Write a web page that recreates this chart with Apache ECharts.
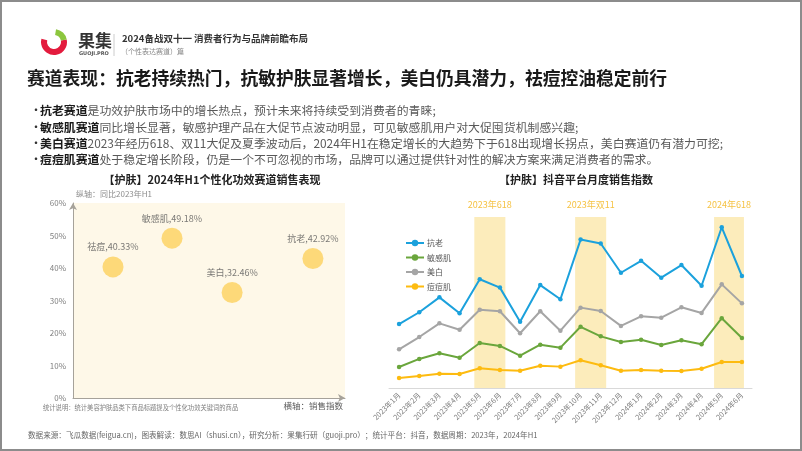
<!DOCTYPE html>
<html>
<head>
<meta charset="utf-8">
<script src="https://cdn.jsdelivr.net/npm/echarts@6/dist/echarts.min.js"></script>
<style>
html, body { margin: 0; padding: 0; background: #fff; }
#main { width: 802px; height: 451px; }
</style>
</head>
<body>
<div id="main"></div>
<script>
// 左图：个性化功效赛道（横轴销售指数为估计值，纵轴同比）
var trackNames = ["祛痘", "敏感肌", "美白", "抗老"];
var trackIndex = [14.7, 36.4, 58.5, 88.2];
var trackYoY = [40.33, 49.18, 32.46, 42.92];

// 右图：抖音平台月度销售指数
var months = ["2023年1月", "2023年2月", "2023年3月", "2023年4月", "2023年5月", "2023年6月",
  "2023年7月", "2023年8月", "2023年9月", "2023年10月", "2023年11月", "2023年12月",
  "2024年1月", "2024年2月", "2024年3月", "2024年4月", "2024年5月", "2024年6月"];
var kangLao = [37.4, 44.3, 53.0, 43.7, 63.6, 58.7, 38.8, 60.2, 51.9, 86.8, 84.5, 67.4, 74.4, 64.5, 71.9, 59.8, 94.0, 65.5];
var minGan = [12.3, 17.0, 20.3, 17.7, 26.3, 24.6, 18.9, 25.3, 23.6, 35.8, 30.2, 26.9, 28.2, 25.1, 27.9, 25.6, 40.8, 29.2];
var meiBai = [22.6, 29.8, 37.8, 34.1, 45.8, 44.9, 32.0, 44.9, 33.5, 47.0, 45.0, 36.3, 41.9, 41.1, 47.2, 43.9, 60.6, 49.5];
var douDou = [5.8, 7.0, 8.4, 8.2, 11.5, 10.5, 10.1, 13.0, 12.5, 16.2, 13.3, 10.1, 10.5, 10.1, 9.9, 11.3, 15.2, 15.2];

// 大促区间（按月份序号）
var promoNames = ["2023年618", "2023年双11", "2024年618"];
var promoStart = [3.73, 8.73, 15.62];
var promoEnd = [5.27, 10.27, 17.1];

var FONT = "Noto Sans CJK SC";
var myChart = echarts.init(document.getElementById("main"));

var scatterData = trackNames.map(function (n, i) {
  return { name: n, value: [trackIndex[i], trackYoY[i]] };
});
var promoAreas = promoNames.map(function (n, i) {
  return [{ name: n, xAxis: promoStart[i] }, { xAxis: promoEnd[i] }];
});

var bullets = [
  ["抗老赛道", "是功效护肤市场中的增长热点，预计未来将持续受到消费者的青睐;"],
  ["敏感肌赛道", "同比增长显著，敏感护理产品在大促节点波动明显，可见敏感肌用户对大促囤货机制感兴趣;"],
  ["美白赛道", "2023年经历618、双11大促及夏季波动后，2024年H1在稳定增长的大趋势下于618出现增长拐点，美白赛道仍有潜力可挖;"],
  ["痘痘肌赛道", "处于稳定增长阶段，仍是一个不可忽视的市场，品牌可以通过提供针对性的解决方案来满足消费者的需求。"]
];
var bulletY = [110, 127, 143, 159];

var graphics = [
  { type: "rect", shape: { x: 1, y: 1, width: 800, height: 449 }, style: { fill: "none", stroke: "#8c8c8c", lineWidth: 2 } },
  // logo
  { type: "sector", shape: { cx: 54, cy: 42, r: 13, r0: 7, startAngle: -0.2, endAngle: Math.PI * 1.08 }, style: { fill: "#e31b3d" } },
  { type: "sector", shape: { cx: 54, cy: 42, r: 13, r0: 7, startAngle: -Math.PI * 0.45, endAngle: -0.2 }, style: { fill: "#8cc63e" } },
  { type: "text", left: 78, top: 32, style: { text: "果集", fill: "#333", font: "bold 17px '" + FONT + "'" } },
  { type: "text", left: 79, top: 51, style: { text: "GUOJI.PRO", fill: "#555", font: "bold 5px 'DejaVu Sans'" } },
  { type: "line", shape: { x1: 114, y1: 34, x2: 114, y2: 56 }, style: { stroke: "#ccc", lineWidth: 1 } },
  { type: "text", left: 122, top: 34, style: { text: "2024备战双十一 消费者行为与品牌前瞻布局", fill: "#333", font: "bold 9.5px '" + FONT + "'" } },
  { type: "text", left: 121, top: 48, style: { text: "（个性表达赛道）篇", fill: "#888", font: "7px '" + FONT + "'" } },
  // 主标题
  { type: "text", left: 27, top: 69, style: { text: "赛道表现：抗老持续热门，抗敏护肤显著增长，美白仍具潜力，祛痘控油稳定前行", fill: "#1a1a1a", font: "bold 17.8px '" + FONT + "'" } },
  // 图标题
  { type: "text", x: 212, y: 180, style: { text: "【护肤】2024年H1个性化功效赛道销售表现", fill: "#222", font: "bold 11px '" + FONT + "'", align: "center", verticalAlign: "middle" } },
  { type: "text", x: 576, y: 180, style: { text: "【护肤】抖音平台月度销售指数", fill: "#222", font: "bold 11px '" + FONT + "'", align: "center", verticalAlign: "middle" } },
  { type: "text", left: 76, top: 190, style: { text: "纵轴：同比2023年H1", fill: "#8c8c8c", font: "8px '" + FONT + "'" } },
  { type: "text", left: 43, top: 404, style: { text: "统计说明：统计美容护肤品类下商品标题提及个性化功效关键词的商品", fill: "#7f7f7f", font: "6.3px '" + FONT + "'" } },
  { type: "text", right: 459, top: 402, style: { text: "横轴：销售指数", fill: "#595959", font: "8.5px '" + FONT + "'" } },
  { type: "text", left: 28, top: 431, style: { text: "数据来源：飞瓜数据(feigua.cn)，图表解读：数思AI（shusi.cn），研究分析：果集行研（guoji.pro）；统计平台：抖音，数据周期：2023年，2024年H1", fill: "#666", font: "7.6px '" + FONT + "'" } }
];
bullets.forEach(function (b, i) {
  graphics.push({ type: "text", x: 30, y: bulletY[i], style: { text: "•", fill: "#333", font: "12px '" + FONT + "'", verticalAlign: "middle" } });
  graphics.push({
    type: "text", x: 40, y: bulletY[i],
    style: {
      text: "{b|" + b[0] + "}{n|" + b[1] + "}",
      verticalAlign: "middle",
      rich: {
        b: { fill: "#1a1a1a", fontWeight: "bold", fontSize: 11.9, fontFamily: FONT },
        n: { fill: "#595959", fontSize: 11.9, fontFamily: FONT }
      }
    }
  });
});

function lineSeries(name, data, color) {
  return {
    name: name, type: "line", xAxisIndex: 1, yAxisIndex: 1,
    data: data, symbol: "circle", symbolSize: 4.5, z: 3,
    itemStyle: { color: color },
    lineStyle: { color: color, width: 2 }
  };
}

var Option = {
  animation: false,
  textStyle: { fontFamily: FONT },
  graphic: graphics,
  grid: [
    { left: 73, right: 457, top: 203, bottom: 53, show: true, backgroundColor: "#fef8e8", borderWidth: 0 },
    { left: 389, right: 50, top: 217, bottom: 63 }
  ],
  legend: {
    orient: "vertical", left: 400, top: 234, itemGap: 6.5, itemWidth: 18, itemHeight: 8,
    data: ["抗老", "敏感肌", "美白", "痘痘肌"],
    textStyle: { fontSize: 8, color: "#595959", fontFamily: FONT, padding: [0, 0, 0, -2] }
  },
  xAxis: [
    {
      gridIndex: 0, type: "value", min: 0, max: 100,
      axisLabel: { show: false }, axisTick: { show: false }, splitLine: { show: false },
      axisLine: { show: true, symbol: ["none", "arrow"], symbolSize: [6, 7], lineStyle: { color: "#a6a29a", width: 1 } }
    },
    {
      gridIndex: 1, type: "category", data: months, boundaryGap: true,
      axisTick: { show: false },
      axisLine: { lineStyle: { color: "#d9d9d9" } },
      axisLabel: { rotate: 45, fontSize: 7.3, color: "#7f7f7f", margin: 6, interval: 0 }
    },
    { gridIndex: 1, type: "value", min: -0.5, max: 17.5, show: false }
  ],
  yAxis: [
    {
      gridIndex: 0, type: "value", min: 0, max: 60, interval: 10,
      axisLabel: { formatter: "{value}%", fontSize: 8, color: "#7f7f7f", margin: 7 },
      axisTick: { show: false }, splitLine: { show: false },
      axisLine: { show: true, symbol: ["none", "arrow"], symbolSize: [6, 7], lineStyle: { color: "#a6a29a", width: 1 } }
    },
    { gridIndex: 1, type: "value", min: 0, max: 100, show: false }
  ],
  series: [
    {
      type: "scatter", xAxisIndex: 0, yAxisIndex: 0, data: scatterData,
      symbolSize: 21, itemStyle: { color: "#fdd15c" },
      label: {
        show: true, position: "top", distance: 5, fontSize: 9, color: "#595959",
        formatter: function (p) { return p.name + "," + p.value[1].toFixed(2) + "%"; }
      }
    },
    {
      type: "line", xAxisIndex: 2, yAxisIndex: 1, data: [], z: 1,
      markArea: {
        silent: true,
        itemStyle: { color: "#fcecbb" },
        label: { show: true, position: "top", distance: 8, color: "#f5c243", fontSize: 9 },
        data: promoAreas
      }
    },
    lineSeries("抗老", kangLao, "#1ba1dc"),
    lineSeries("敏感肌", minGan, "#6aa63c"),
    lineSeries("美白", meiBai, "#a5a5a5"),
    lineSeries("痘痘肌", douDou, "#fdbb10")
  ]
};
myChart.setOption(Option);
</script>
</body>
</html>
